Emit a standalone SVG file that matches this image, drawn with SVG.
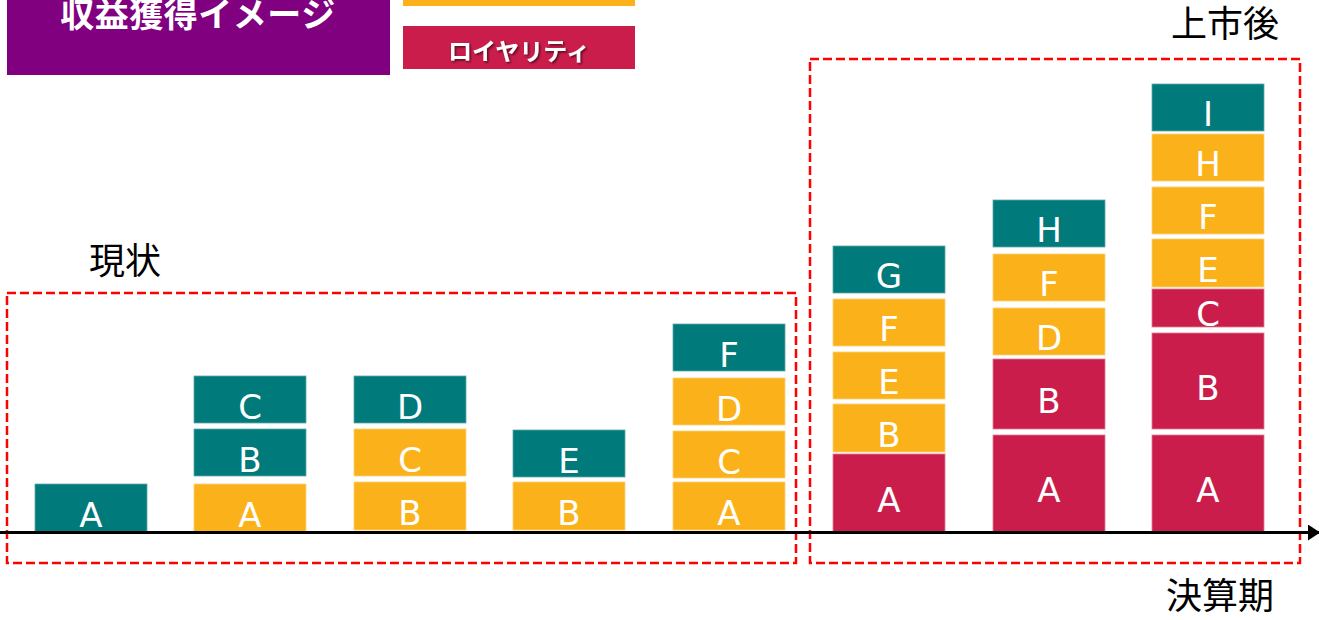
<svg xmlns="http://www.w3.org/2000/svg" width="1319" height="620" viewBox="0 0 1319 620">
<defs>
<style>
.t{fill:#007A7A;stroke:#5fa9a9;stroke-width:0.8}
.o{fill:#FBB21A;stroke:#fcd17a;stroke-width:0.8}
.r{fill:#CB1D4B;stroke:#e07a95;stroke-width:0.8}
.l{font-family:"DejaVu Sans","Verdana",sans-serif;font-size:34px;fill:#fff;text-anchor:middle}
.j{font-family:"Noto Sans CJK JP",sans-serif;font-size:36px;fill:#000}
.dash{fill:none;stroke:#FF0000;stroke-width:2.5;stroke-dasharray:9 4}
</style>
<filter id="sh" x="-10%" y="-20%" width="130%" height="150%"><feDropShadow dx="1.5" dy="1.5" stdDeviation="0.8" flood-color="#000" flood-opacity="0.6"/></filter>
<marker id="ah" markerWidth="12" markerHeight="16" refX="11" refY="8" orient="auto" markerUnits="userSpaceOnUse"><path d="M0,0 L12,8 L0,16 Z" fill="#000"/></marker>
</defs>
<rect width="1319" height="620" fill="#fff"/>

<g id="title">
<rect x="7" y="0" width="383" height="75" fill="#800080"/>
<text x="198" y="27" font-family="'Noto Sans CJK JP',sans-serif" font-size="34" font-weight="bold" fill="#fff" text-anchor="middle" letter-spacing="0.5">収益獲得イメージ</text>
</g>
<g id="legend-milestone"><rect x="403" y="-40" width="232" height="46" fill="#FBB21A"/></g>
<g id="legend-royalty">
<rect x="403" y="26" width="232" height="43" fill="#CB1D4B"/>
<text x="519" y="60" font-family="'Noto Sans CJK JP',sans-serif" font-size="24" font-weight="bold" fill="#fff" text-anchor="middle" filter="url(#sh)">ロイヤリティ</text>
</g>

<g id="frame-current"><rect class="dash" x="7" y="293" width="789" height="270"/></g>
<g id="frame-after"><rect class="dash" x="810" y="59" width="490" height="504"/></g>
<g id="label-current"><text class="j" x="89" y="274">現状</text></g>
<g id="label-after"><text class="j" x="1171" y="37">上市後</text></g>
<g id="label-period"><text class="j" x="1166" y="609">決算期</text></g>

<g id="col1">
<rect class="t" x="35" y="484" width="112" height="48"/><text class="l" x="91" y="527">A</text>
</g>
<g id="col2">
<rect class="o" x="194" y="484" width="112" height="48"/><text class="l" x="250" y="527">A</text>
<rect class="t" x="194" y="429" width="112" height="47"/><text class="l" x="250" y="472">B</text>
<rect class="t" x="194" y="376" width="112" height="47"/><text class="l" x="250" y="419">C</text>
</g>
<g id="col3">
<rect class="o" x="354" y="482" width="112" height="48"/><text class="l" x="410" y="525">B</text>
<rect class="o" x="354" y="429" width="112" height="47"/><text class="l" x="410" y="472">C</text>
<rect class="t" x="354" y="376" width="112" height="47"/><text class="l" x="410" y="419">D</text>
</g>
<g id="col4">
<rect class="o" x="513" y="482" width="112" height="48"/><text class="l" x="569" y="525">B</text>
<rect class="t" x="513" y="430" width="112" height="47"/><text class="l" x="569" y="473">E</text>
</g>
<g id="col5">
<rect class="o" x="673" y="482" width="112" height="48"/><text class="l" x="729" y="525">A</text>
<rect class="o" x="673" y="431" width="112" height="47"/><text class="l" x="729" y="474">C</text>
<rect class="o" x="673" y="378" width="112" height="47"/><text class="l" x="729" y="421">D</text>
<rect class="t" x="673" y="324" width="112" height="47"/><text class="l" x="729" y="367">F</text>
</g>
<g id="col6">
<rect class="r" x="833" y="454" width="112" height="78"/><text class="l" x="889" y="512">A</text>
<rect class="o" x="833" y="404" width="112" height="48"/><text class="l" x="889" y="447">B</text>
<rect class="o" x="833" y="352" width="112" height="47"/><text class="l" x="889" y="394">E</text>
<rect class="o" x="833" y="299" width="112" height="47"/><text class="l" x="889" y="341">F</text>
<rect class="t" x="833" y="246" width="112" height="47"/><text class="l" x="889" y="288">G</text>
</g>
<g id="col7">
<rect class="r" x="993" y="435" width="112" height="97"/><text class="l" x="1049" y="502">A</text>
<rect class="r" x="993" y="359" width="112" height="70"/><text class="l" x="1049" y="413">B</text>
<rect class="o" x="993" y="308" width="112" height="47"/><text class="l" x="1049" y="350">D</text>
<rect class="o" x="993" y="254" width="112" height="47"/><text class="l" x="1049" y="296">F</text>
<rect class="t" x="993" y="200" width="112" height="47"/><text class="l" x="1049" y="242">H</text>
</g>
<g id="col8">
<rect class="r" x="1152" y="435" width="112" height="97"/><text class="l" x="1208" y="502">A</text>
<rect class="r" x="1152" y="333" width="112" height="96"/><text class="l" x="1208" y="400">B</text>
<rect class="r" x="1152" y="289" width="112" height="38"/><text class="l" x="1208" y="326">C</text>
<rect class="o" x="1152" y="239" width="112" height="48"/><text class="l" x="1208" y="282">E</text>
<rect class="o" x="1152" y="187" width="112" height="47"/><text class="l" x="1208" y="229">F</text>
<rect class="o" x="1152" y="134" width="112" height="47"/><text class="l" x="1208" y="176">H</text>
<rect class="t" x="1152" y="84" width="112" height="47"/><text class="l" x="1208" y="126">I</text>
</g>

<g id="connectors">
<line x1="0" y1="532.5" x2="1319" y2="532.5" stroke="#000" stroke-width="3" marker-end="url(#ah)"/>
</g>
</svg>
